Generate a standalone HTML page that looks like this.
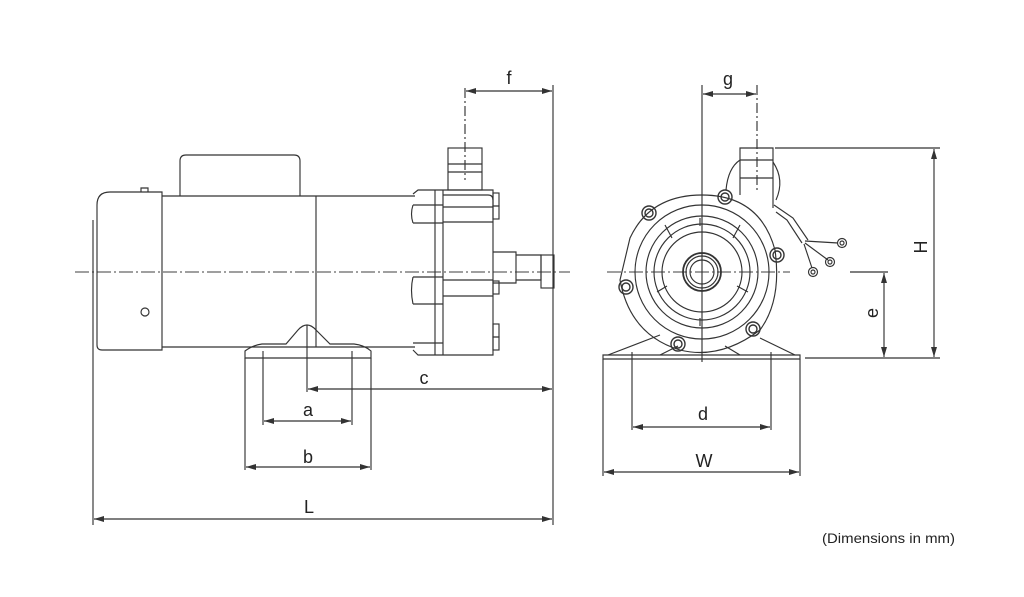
<!DOCTYPE html>
<html><head><meta charset="utf-8"><style>
html,body{margin:0;padding:0;background:#fff;}
svg{display:block}
text{font-family:"Liberation Sans",sans-serif;fill:#222}
</style></head><body>
<svg width="1024" height="597" viewBox="0 0 1024 597" xmlns="http://www.w3.org/2000/svg">
<defs>
<marker id="ar" viewBox="0 0 10 6" refX="10" refY="3" markerWidth="10" markerHeight="6" orient="auto-start-reverse" markerUnits="userSpaceOnUse">
<path d="M0,0 L10,3 L0,6 z" fill="#333"/></marker>
</defs>
<g fill="none" stroke="#333" stroke-width="1.15">
<!-- centerlines -->
<line x1="75" y1="272" x2="570" y2="272" stroke-dasharray="14,3,2,3" stroke="#666"/>
<line x1="607" y1="272" x2="790" y2="272" stroke-dasharray="14,3,2,3" stroke="#666"/>
<!-- LEFT VIEW -->
<path d="M93,220 V325" />
<path d="M97,205 Q97,192 110,192 H162 V350 H102 Q97,350 97,345 Z"/>
<path d="M141,192 V188 H148 V192"/>
<circle cx="145" cy="312" r="4"/>
<path d="M162,196 H415 M162,347 H415"/>
<line x1="316" y1="196" x2="316" y2="347"/>
<path d="M180,196 V161 Q180,155 186,155 H294 Q300,155 300,161 V196"/>
<!-- pump flange -->
<path d="M413,194 L418,190 H493 V355 H418 L413,350"/>
<line x1="435" y1="190" x2="435" y2="355"/>
<line x1="443" y1="190" x2="443" y2="355"/>
<path d="M443,195 H488 Q493,195 493,200"/>
<path d="M413,205 H443 M413,223 H443 M413,277 H443 M413,304 H443 M413,343 H443"/>
<path d="M413,205 Q410,214 413,223 M413,277 Q410,290 413,304"/>
<path d="M443,207 H493 M443,222 H493 M443,280 H493 M443,296 H493"/>
<rect x="493" y="193" width="6" height="13"/><rect x="493" y="206" width="6" height="13"/>
<rect x="493" y="281" width="6" height="13"/><rect x="493" y="324" width="6" height="13"/><rect x="493" y="337" width="6" height="13"/>
<!-- top port -->
<rect x="448" y="148" width="34" height="42"/>
<line x1="448" y1="164" x2="482" y2="164"/><line x1="448" y1="172" x2="482" y2="172"/>
<line x1="465" y1="88" x2="465" y2="180" stroke-dasharray="10,3,2,3"/>
<!-- outlet port -->
<path d="M493,252 H516 V283 H493"/>
<path d="M516,255 H541 V280 H516"/>
<rect x="541" y="255" width="13" height="33"/>
<!-- foot -->
<path d="M245,358 V351 Q253,345 262,344 H286 L298,330 Q307,320 316,330 L330,344 H354 Q364,345 371,351 V358 Z"/>
<line x1="245" y1="358" x2="245" y2="470"/><line x1="371" y1="358" x2="371" y2="470"/>
<line x1="263" y1="351" x2="263" y2="425"/><line x1="352" y1="351" x2="352" y2="425"/>
<line x1="307" y1="325" x2="307" y2="392"/>
<!-- RIGHT VIEW -->
<path d="M740,195 V148 H773 V208"/>
<line x1="740" y1="160" x2="773" y2="160"/><line x1="740" y1="178" x2="773" y2="178"/>
<path d="M740,160 Q728,168 726,190"/>
<path d="M773,162 Q785,180 776,200"/>
<path d="M630,238 Q650,195 702,195 Q760,195 775,250 Q782,300 760,330 Q720,360 680,350 Q630,335 620,280 Z"/>
<circle cx="702" cy="272" r="67"/>
<circle cx="702" cy="272" r="56"/>
<circle cx="702" cy="272" r="48"/>
<circle cx="702" cy="272" r="40"/>
<circle cx="702" cy="272" r="19" stroke-width="1.8"/>
<circle cx="702" cy="272" r="16"/>
<circle cx="702" cy="272" r="12"/>
<g stroke-width="1.4">
<circle cx="649" cy="213" r="7"/><circle cx="649" cy="213" r="4"/>
<circle cx="725" cy="197" r="7"/><circle cx="725" cy="197" r="4"/>
<circle cx="777" cy="255" r="7"/><circle cx="777" cy="255" r="4"/>
<circle cx="626" cy="287" r="7"/><circle cx="626" cy="287" r="4"/>
<circle cx="753" cy="329" r="7"/><circle cx="753" cy="329" r="4"/>
<circle cx="678" cy="344" r="7"/><circle cx="678" cy="344" r="4"/>
</g>
<path d="M665,225 L672,238 M740,225 L733,238 M748,292 L737,286 M657,292 L667,286 M700,326 V318 M700,218 V226"/>
<!-- base -->
<path d="M603,355 H800 V359 H603 Z"/>
<path d="M608,355 L660,335 M795,355 L760,338 M660,355 L678,346 M740,355 L725,346"/>
<line x1="702" y1="85" x2="702" y2="362"/>
<line x1="757" y1="85" x2="757" y2="190" stroke-dasharray="10,3,2,3"/>
<line x1="603" y1="359" x2="603" y2="476"/><line x1="800" y1="359" x2="800" y2="476"/>
<line x1="632" y1="352" x2="632" y2="430"/><line x1="771" y1="352" x2="771" y2="430"/>
<!-- cable -->
<path d="M774,205 L793,218 L808,240 M776,212 L787,220 L802,243"/>
<path d="M805,241 L838,243 M805,243 L828,260 M804,244 L812,268"/>
<circle cx="842" cy="243" r="4.5"/><circle cx="842" cy="243" r="2"/>
<circle cx="830" cy="262" r="4.5"/><circle cx="830" cy="262" r="2"/>
<circle cx="813" cy="272" r="4.5"/><circle cx="813" cy="272" r="2"/>
<!-- extension lines -->
<line x1="553" y1="85" x2="553" y2="525"/>
<line x1="93" y1="325" x2="93" y2="525"/>
<line x1="775" y1="148" x2="940" y2="148"/>
<line x1="850" y1="272" x2="888" y2="272"/>
<line x1="805" y1="358" x2="940" y2="358"/>
<!-- dimension lines -->
<g stroke="#333" marker-start="url(#ar)" marker-end="url(#ar)">
<line x1="466" y1="91" x2="552" y2="91"/>
<line x1="703" y1="94" x2="756" y2="94"/>
<line x1="308" y1="389" x2="552" y2="389"/>
<line x1="264" y1="421" x2="351" y2="421"/>
<line x1="246" y1="467" x2="370" y2="467"/>
<line x1="94" y1="519" x2="552" y2="519"/>
<line x1="633" y1="427" x2="770" y2="427"/>
<line x1="604" y1="472" x2="799" y2="472"/>
<line x1="884" y1="273" x2="884" y2="357"/>
<line x1="934" y1="149" x2="934" y2="357"/>
</g>
</g>
<g font-size="18" text-anchor="middle">
<text x="509" y="84">f</text>
<text x="728" y="85">g</text>
<text x="424" y="384">c</text>
<text x="308" y="416">a</text>
<text x="308" y="463">b</text>
<text x="309" y="513">L</text>
<text x="703" y="420">d</text>
<text x="704" y="467">W</text>
<text transform="translate(878,313) rotate(-90)">e</text>
<text transform="translate(927,247) rotate(-90)">H</text>
</g>
<text x="822" y="543" font-size="13.5" textLength="133" lengthAdjust="spacingAndGlyphs">(Dimensions in mm)</text>
</svg>
</body></html>
